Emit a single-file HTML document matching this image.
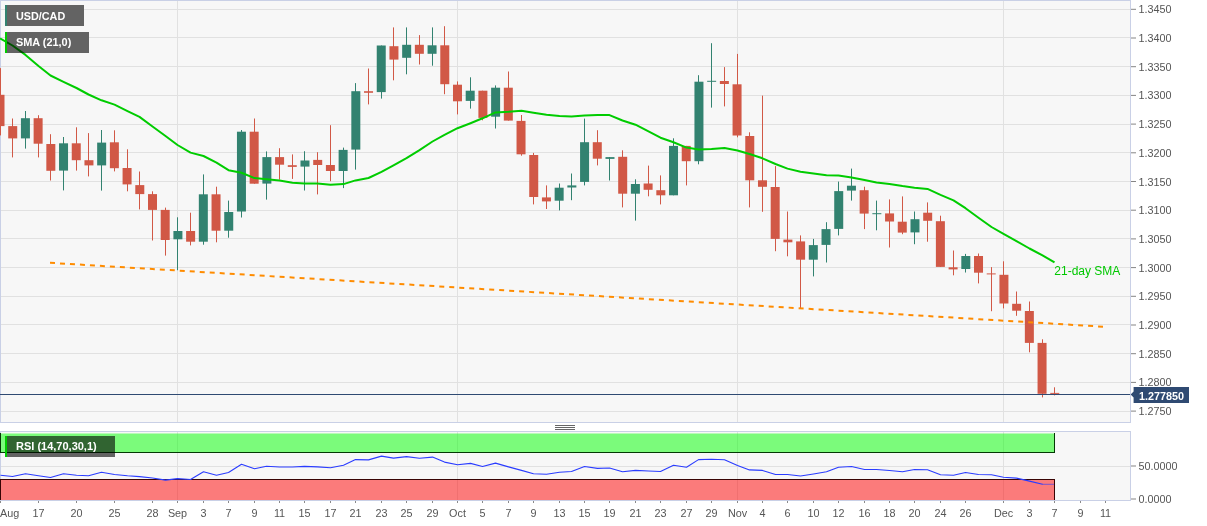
<!DOCTYPE html>
<html><head><meta charset="utf-8"><title>USD/CAD</title>
<style>
html,body{margin:0;padding:0;background:#fff;}
body{width:1207px;height:526px;overflow:hidden;}
svg{display:block;}
svg text{font-family:"Liberation Sans",Arial,sans-serif;}
.ax{font-size:10.8px;fill:#555;}
.lb{font-size:10.8px;font-weight:bold;fill:#fff;}
</style></head><body>
<svg width="1207" height="526" viewBox="0 0 1207 526">
<rect x="0" y="0" width="1131" height="423" fill="#f7f7f7"/>
<rect x="0" y="431" width="1131" height="70" fill="#f7f7f7"/>
<g shape-rendering="crispEdges" stroke="#e1e1e1" stroke-width="1">
<line x1="1" y1="9.5" x2="1130" y2="9.5"/>
<line x1="1" y1="37.5" x2="1130" y2="37.5"/>
<line x1="1" y1="66.5" x2="1130" y2="66.5"/>
<line x1="1" y1="95.5" x2="1130" y2="95.5"/>
<line x1="1" y1="124.5" x2="1130" y2="124.5"/>
<line x1="1" y1="152.5" x2="1130" y2="152.5"/>
<line x1="1" y1="181.5" x2="1130" y2="181.5"/>
<line x1="1" y1="210.5" x2="1130" y2="210.5"/>
<line x1="1" y1="238.5" x2="1130" y2="238.5"/>
<line x1="1" y1="267.5" x2="1130" y2="267.5"/>
<line x1="1" y1="296.5" x2="1130" y2="296.5"/>
<line x1="1" y1="324.5" x2="1130" y2="324.5"/>
<line x1="1" y1="353.5" x2="1130" y2="353.5"/>
<line x1="1" y1="382.5" x2="1130" y2="382.5"/>
<line x1="1" y1="411.5" x2="1130" y2="411.5"/>
<line x1="177.5" y1="1" x2="177.5" y2="422"/>
<line x1="177.5" y1="432" x2="177.5" y2="500"/>
<line x1="457.5" y1="1" x2="457.5" y2="422"/>
<line x1="457.5" y1="432" x2="457.5" y2="500"/>
<line x1="737.5" y1="1" x2="737.5" y2="422"/>
<line x1="737.5" y1="432" x2="737.5" y2="500"/>
<line x1="1003.5" y1="1" x2="1003.5" y2="422"/>
<line x1="1003.5" y1="432" x2="1003.5" y2="500"/>
<line x1="1" y1="466.5" x2="1130" y2="466.5"/>
</g>
<rect x="5" y="5" width="79" height="21" fill="#f7f7f7"/><rect x="5" y="32" width="84" height="21" fill="#f7f7f7"/>
<g shape-rendering="crispEdges" fill="none" stroke="#c9d0e6" stroke-width="1">
<rect x="0.5" y="0.5" width="1130" height="422"/>
<rect x="0.5" y="431.5" width="1130" height="69"/>
</g>
<g stroke="#858585" stroke-width="1">
<line x1="1131" y1="9.30" x2="1136" y2="9.30"/>
<line x1="1131" y1="38.00" x2="1136" y2="38.00"/>
<line x1="1131" y1="66.70" x2="1136" y2="66.70"/>
<line x1="1131" y1="95.40" x2="1136" y2="95.40"/>
<line x1="1131" y1="124.10" x2="1136" y2="124.10"/>
<line x1="1131" y1="152.80" x2="1136" y2="152.80"/>
<line x1="1131" y1="181.50" x2="1136" y2="181.50"/>
<line x1="1131" y1="210.20" x2="1136" y2="210.20"/>
<line x1="1131" y1="238.90" x2="1136" y2="238.90"/>
<line x1="1131" y1="267.60" x2="1136" y2="267.60"/>
<line x1="1131" y1="296.30" x2="1136" y2="296.30"/>
<line x1="1131" y1="325.00" x2="1136" y2="325.00"/>
<line x1="1131" y1="353.70" x2="1136" y2="353.70"/>
<line x1="1131" y1="382.40" x2="1136" y2="382.40"/>
<line x1="1131" y1="411.10" x2="1136" y2="411.10"/>
<line x1="1131" y1="466" x2="1136" y2="466"/>
<line x1="1131" y1="499" x2="1136" y2="499"/>
</g>
<g>
<g fill="#d15846"><rect x="0.00" y="68.1" width="1" height="67.3"/><rect x="-4.50" y="94.8" width="9" height="31.3"/></g>
<g fill="#d15846"><rect x="12.00" y="118.5" width="1" height="38.9"/><rect x="8.21" y="126.1" width="9" height="12.3"/></g>
<g fill="#328270"><rect x="25.00" y="111.0" width="1" height="37.6"/><rect x="20.92" y="118.2" width="9" height="20.2"/></g>
<g fill="#d15846"><rect x="38.00" y="115.2" width="1" height="42.2"/><rect x="33.62" y="118.2" width="9" height="25.5"/></g>
<g fill="#d15846"><rect x="50.00" y="134.2" width="1" height="46.3"/><rect x="46.33" y="144" width="9" height="26.8"/></g>
<g fill="#328270"><rect x="63.00" y="137" width="1" height="53.4"/><rect x="59.04" y="143.3" width="9" height="27.3"/></g>
<g fill="#d15846"><rect x="76.00" y="127.3" width="1" height="43.3"/><rect x="71.75" y="143.3" width="9" height="16.9"/></g>
<g fill="#d15846"><rect x="88.00" y="133.1" width="1" height="43.3"/><rect x="84.46" y="160.2" width="9" height="5.2"/></g>
<g fill="#328270"><rect x="101.00" y="130" width="1" height="60.6"/><rect x="97.16" y="142.6" width="9" height="22.8"/></g>
<g fill="#d15846"><rect x="114.00" y="130.3" width="1" height="41.1"/><rect x="109.87" y="142.3" width="9" height="25.9"/></g>
<g fill="#d15846"><rect x="127.00" y="149.3" width="1" height="42.0"/><rect x="122.58" y="168" width="9" height="16.4"/></g>
<g fill="#d15846"><rect x="139.00" y="171.5" width="1" height="37.9"/><rect x="135.29" y="185.1" width="9" height="9.0"/></g>
<g fill="#d15846"><rect x="152.00" y="191.3" width="1" height="49.2"/><rect x="148.00" y="194.1" width="9" height="15.8"/></g>
<g fill="#d15846"><rect x="165.00" y="207.6" width="1" height="48.0"/><rect x="160.70" y="209.9" width="9" height="30.1"/></g>
<g fill="#328270"><rect x="177.00" y="217.3" width="1" height="52.9"/><rect x="173.41" y="231" width="9" height="8.3"/></g>
<g fill="#d15846"><rect x="190.00" y="212.7" width="1" height="32.7"/><rect x="186.12" y="231" width="9" height="10.7"/></g>
<g fill="#328270"><rect x="203.00" y="174.4" width="1" height="70.3"/><rect x="198.83" y="194.3" width="9" height="47.4"/></g>
<g fill="#d15846"><rect x="216.00" y="186.7" width="1" height="55.6"/><rect x="211.54" y="194.3" width="9" height="36.4"/></g>
<g fill="#328270"><rect x="228.00" y="200.6" width="1" height="37.1"/><rect x="224.24" y="212" width="9" height="18.7"/></g>
<g fill="#328270"><rect x="241.00" y="130" width="1" height="87.5"/><rect x="236.95" y="131.7" width="9" height="79.8"/></g>
<g fill="#d15846"><rect x="254.00" y="118.5" width="1" height="65.2"/><rect x="249.66" y="131.7" width="9" height="52.0"/></g>
<g fill="#328270"><rect x="266.00" y="151.4" width="1" height="48.2"/><rect x="262.37" y="157.1" width="9" height="26.5"/></g>
<g fill="#d15846"><rect x="279.00" y="148.2" width="1" height="31.4"/><rect x="275.08" y="157.1" width="9" height="7.6"/></g>
<g fill="#d15846"><rect x="292.00" y="154.4" width="1" height="24.5"/><rect x="287.78" y="165.2" width="9" height="1.7"/></g>
<g fill="#328270"><rect x="304.00" y="151.2" width="1" height="39.3"/><rect x="300.49" y="160.5" width="9" height="6.1"/></g>
<g fill="#d15846"><rect x="317.00" y="152.2" width="1" height="42.2"/><rect x="313.20" y="159.9" width="9" height="5.1"/></g>
<g fill="#d15846"><rect x="330.00" y="125.2" width="1" height="56.0"/><rect x="325.91" y="165" width="9" height="6.0"/></g>
<g fill="#328270"><rect x="343.00" y="147.6" width="1" height="40.5"/><rect x="338.62" y="149.9" width="9" height="21.1"/></g>
<g fill="#328270"><rect x="355.00" y="83.1" width="1" height="86.5"/><rect x="351.32" y="91.2" width="9" height="58.4"/></g>
<g fill="#d15846"><rect x="368.00" y="68.5" width="1" height="35.9"/><rect x="364.03" y="91.2" width="9" height="1.6"/></g>
<g fill="#328270"><rect x="381.00" y="45.5" width="1" height="53.1"/><rect x="376.74" y="45.5" width="9" height="46.6"/></g>
<g fill="#d15846"><rect x="393.00" y="27.4" width="1" height="52.9"/><rect x="389.45" y="46.2" width="9" height="13.4"/></g>
<g fill="#328270"><rect x="406.00" y="27.4" width="1" height="46.9"/><rect x="402.16" y="44.8" width="9" height="13.0"/></g>
<g fill="#d15846"><rect x="419.00" y="35.1" width="1" height="29.4"/><rect x="414.86" y="44.8" width="9" height="9.0"/></g>
<g fill="#328270"><rect x="432.00" y="27.4" width="1" height="38.3"/><rect x="427.57" y="45.3" width="9" height="8.5"/></g>
<g fill="#d15846"><rect x="444.00" y="26.2" width="1" height="68.0"/><rect x="440.28" y="45.3" width="9" height="38.9"/></g>
<g fill="#d15846"><rect x="457.00" y="81.4" width="1" height="33.0"/><rect x="452.99" y="84.7" width="9" height="16.6"/></g>
<g fill="#328270"><rect x="470.00" y="77.3" width="1" height="31.3"/><rect x="465.70" y="90.7" width="9" height="10.2"/></g>
<g fill="#d15846"><rect x="482.00" y="90.7" width="1" height="29.6"/><rect x="478.40" y="90.7" width="9" height="27.2"/></g>
<g fill="#328270"><rect x="495.00" y="85.4" width="1" height="43.1"/><rect x="491.11" y="87.7" width="9" height="29.0"/></g>
<g fill="#d15846"><rect x="508.00" y="71.5" width="1" height="49.1"/><rect x="503.82" y="87.7" width="9" height="32.9"/></g>
<g fill="#d15846"><rect x="521.00" y="115" width="1" height="40.7"/><rect x="516.53" y="120.9" width="9" height="33.4"/></g>
<g fill="#d15846"><rect x="533.00" y="152.9" width="1" height="51.5"/><rect x="529.24" y="155" width="9" height="42.0"/></g>
<g fill="#d15846"><rect x="546.00" y="185.4" width="1" height="23.6"/><rect x="541.94" y="197.4" width="9" height="4.0"/></g>
<g fill="#328270"><rect x="559.00" y="183.5" width="1" height="26.9"/><rect x="554.65" y="187.7" width="9" height="13.0"/></g>
<g fill="#328270"><rect x="571.00" y="173.5" width="1" height="26.7"/><rect x="567.36" y="185.4" width="9" height="2.1"/></g>
<g fill="#328270"><rect x="584.00" y="118.6" width="1" height="66.8"/><rect x="580.07" y="142.2" width="9" height="39.7"/></g>
<g fill="#d15846"><rect x="597.00" y="130.2" width="1" height="35.2"/><rect x="592.78" y="142.2" width="9" height="16.5"/></g>
<g fill="#328270"><rect x="609.00" y="157.1" width="1" height="23.4"/><rect x="605.48" y="157.1" width="9" height="1.8"/></g>
<g fill="#d15846"><rect x="622.00" y="150.3" width="1" height="57.1"/><rect x="618.19" y="156.8" width="9" height="36.9"/></g>
<g fill="#328270"><rect x="635.00" y="179.3" width="1" height="41.3"/><rect x="630.90" y="184" width="9" height="9.7"/></g>
<g fill="#d15846"><rect x="648.00" y="165.6" width="1" height="30.7"/><rect x="643.61" y="183.5" width="9" height="6.3"/></g>
<g fill="#d15846"><rect x="660.00" y="175.4" width="1" height="29.0"/><rect x="656.32" y="190.2" width="9" height="5.1"/></g>
<g fill="#328270"><rect x="673.00" y="138.3" width="1" height="57.0"/><rect x="669.02" y="145.9" width="9" height="49.4"/></g>
<g fill="#d15846"><rect x="686.00" y="145.9" width="1" height="39.5"/><rect x="681.73" y="145.9" width="9" height="15.3"/></g>
<g fill="#328270"><rect x="698.00" y="75.2" width="1" height="89.1"/><rect x="694.44" y="81.7" width="9" height="79.5"/></g>
<g fill="#328270"><rect x="711.00" y="43.2" width="1" height="64.4"/><rect x="707.15" y="80.8" width="9" height="1.0"/></g>
<g fill="#d15846"><rect x="724.00" y="67.1" width="1" height="39.3"/><rect x="719.86" y="81" width="9" height="3.0"/></g>
<g fill="#d15846"><rect x="737.00" y="53.9" width="1" height="83.4"/><rect x="732.56" y="84.3" width="9" height="51.2"/></g>
<g fill="#d15846"><rect x="749.00" y="132.3" width="1" height="75.1"/><rect x="745.27" y="136" width="9" height="44.3"/></g>
<g fill="#d15846"><rect x="762.00" y="95.6" width="1" height="116.2"/><rect x="757.98" y="180.3" width="9" height="6.5"/></g>
<g fill="#d15846"><rect x="775.00" y="166.1" width="1" height="85.1"/><rect x="770.69" y="187" width="9" height="51.9"/></g>
<g fill="#d15846"><rect x="787.00" y="211.5" width="1" height="44.8"/><rect x="783.40" y="239.6" width="9" height="2.7"/></g>
<g fill="#d15846"><rect x="800.00" y="235.4" width="1" height="72.8"/><rect x="796.10" y="241.4" width="9" height="18.3"/></g>
<g fill="#328270"><rect x="813.00" y="238.9" width="1" height="37.5"/><rect x="808.81" y="245.1" width="9" height="14.6"/></g>
<g fill="#328270"><rect x="826.00" y="222.2" width="1" height="40.3"/><rect x="821.52" y="229.1" width="9" height="15.8"/></g>
<g fill="#328270"><rect x="838.00" y="181.6" width="1" height="53.8"/><rect x="834.23" y="191.1" width="9" height="37.8"/></g>
<g fill="#328270"><rect x="851.00" y="168.6" width="1" height="32.0"/><rect x="846.94" y="185.7" width="9" height="4.9"/></g>
<g fill="#d15846"><rect x="864.00" y="186.7" width="1" height="42.4"/><rect x="859.64" y="190.2" width="9" height="23.4"/></g>
<g fill="#328270"><rect x="876.00" y="200.6" width="1" height="29.7"/><rect x="872.35" y="213.2" width="9" height="1.0"/></g>
<g fill="#d15846"><rect x="889.00" y="199.4" width="1" height="48.1"/><rect x="885.06" y="213.4" width="9" height="8.1"/></g>
<g fill="#d15846"><rect x="902.00" y="196.4" width="1" height="37.8"/><rect x="897.77" y="221.7" width="9" height="10.9"/></g>
<g fill="#328270"><rect x="914.00" y="211.5" width="1" height="32.7"/><rect x="910.48" y="219.2" width="9" height="13.2"/></g>
<g fill="#d15846"><rect x="927.00" y="202.4" width="1" height="39.3"/><rect x="923.18" y="212.7" width="9" height="8.1"/></g>
<g fill="#d15846"><rect x="940.00" y="215.7" width="1" height="51.2"/><rect x="935.89" y="221.2" width="9" height="45.7"/></g>
<g fill="#d15846"><rect x="953.00" y="250.5" width="1" height="24.8"/><rect x="948.60" y="267.3" width="9" height="2.1"/></g>
<g fill="#328270"><rect x="965.00" y="253.9" width="1" height="18.6"/><rect x="961.31" y="256" width="9" height="13.0"/></g>
<g fill="#d15846"><rect x="978.00" y="253.5" width="1" height="29.9"/><rect x="974.02" y="256" width="9" height="16.7"/></g>
<g fill="#d15846"><rect x="991.00" y="267.1" width="1" height="44.1"/><rect x="986.72" y="273.4" width="9" height="1.0"/></g>
<g fill="#d15846"><rect x="1003.00" y="261.3" width="1" height="47.1"/><rect x="999.43" y="274.8" width="9" height="28.7"/></g>
<g fill="#d15846"><rect x="1016.00" y="291.5" width="1" height="24.3"/><rect x="1012.14" y="303.8" width="9" height="6.9"/></g>
<g fill="#d15846"><rect x="1029.00" y="301.5" width="1" height="50.8"/><rect x="1024.85" y="311" width="9" height="31.9"/></g>
<g fill="#d15846"><rect x="1042.00" y="339.3" width="1" height="58.1"/><rect x="1037.56" y="342.9" width="9" height="50.9"/></g>
<g fill="#d15846"><rect x="1054.00" y="387.3" width="1" height="8.1"/><rect x="1050.26" y="392.9" width="9" height="1.0"/></g>
</g>
<line x1="50" y1="262.8" x2="1103" y2="326.7" stroke="#ff8c00" stroke-width="2" stroke-dasharray="5 5"/>
<polyline points="0,38.4 12.5,45.5 25.5,54.9 38.5,66 50.5,75.5 63.5,81.9 76.5,88 88.5,94.5 101.5,100.3 114.5,104.6 127.5,111.1 139.5,116.9 152.5,126.5 165.5,136 177.5,145 190.5,152.6 203.5,156 216.5,162.7 228.5,170.2 241.5,172.8 254.5,178.1 266.5,179.3 279.5,180.6 292.5,182.7 304.5,183.5 317.5,183.4 330.5,184.7 343.5,184.1 355.5,180.4 368.5,178 381.5,171.9 393.5,165.3 406.5,158.2 419.5,150.1 432.5,141.5 444.5,134.8 457.5,128.2 470.5,123.2 482.5,118.3 495.5,112.4 508.5,111.8 521.5,110.8 533.5,112.8 546.5,114.7 559.5,115.9 571.5,116.5 584.5,115.5 597.5,115.1 609.5,115.1 622.5,120.5 635.5,124.7 648.5,131.3 660.5,137.7 673.5,142.3 686.5,147.6 698.5,149.5 711.5,149.1 724.5,147.9 737.5,150.5 749.5,154 762.5,158.3 775.5,164 787.5,168.6 800.5,171.7 813.5,173.6 826.5,175.3 838.5,175.6 851.5,177.5 864.5,180.1 876.5,182.6 889.5,184 902.5,186.1 914.5,187.7 927.5,188.9 940.5,194.8 953.5,200.3 965.5,208.2 978.5,217.7 991.5,227 1003.5,233.9 1016.5,241.2 1029.5,248.5 1042.5,255.4 1054.5,262.4" fill="none" stroke="#00cc00" stroke-width="2" stroke-linejoin="round"/>
<text x="1054.3" y="275" font-size="12" fill="#00c800">21-day SMA</text>
<line x1="0" y1="394.5" x2="1130" y2="394.5" stroke="#2f4a72" stroke-width="1" shape-rendering="crispEdges"/>
<rect x="0" y="433.5" width="1054.5" height="19" fill="rgba(0,255,0,0.5)"/>
<rect x="0" y="479.5" width="1054.5" height="20.5" fill="rgba(255,0,0,0.5)"/>
<g shape-rendering="crispEdges" stroke="#043804" stroke-width="1">
<line x1="0" y1="452.5" x2="1055" y2="452.5"/><line x1="1054.5" y1="433" x2="1054.5" y2="453"/><line x1="0.5" y1="433" x2="0.5" y2="453"/>
</g>
<g shape-rendering="crispEdges" stroke="#380404" stroke-width="1">
<line x1="0" y1="479.5" x2="1055" y2="479.5"/><line x1="1054.5" y1="479" x2="1054.5" y2="500"/><line x1="0.5" y1="479" x2="0.5" y2="500"/>
</g>
<polyline points="0.5,475.3 12.5,476.5 25.5,473.7 38.5,475.7 50.5,477.5 63.5,473.8 76.5,475.2 88.5,475.7 101.5,472.3 114.5,474.5 127.5,475.8 139.5,476.6 152.5,478 165.5,480.1 177.5,478.6 190.5,479.5 203.5,471.8 216.5,475.2 228.5,472.5 241.5,464.2 254.5,468.7 266.5,466.2 279.5,467.0 292.5,467.0 304.5,466.4 317.5,466.9 330.5,467.7 343.5,465.2 355.5,459.6 368.5,459.9 381.5,456.1 393.5,458.1 406.5,456.6 419.5,458.3 432.5,457.1 444.5,462.1 457.5,464.7 470.5,463.4 482.5,466.5 495.5,463.1 508.5,466.9 521.5,470.4 533.5,473.7 546.5,474.2 559.5,472.3 571.5,471.5 584.5,466.5 597.5,468.4 609.5,468.0 622.5,471.8 635.5,470.4 648.5,471.0 660.5,471.5 673.5,465.2 686.5,467.2 698.5,459.6 711.5,459.3 724.5,459.7 737.5,465.5 749.5,469.9 762.5,470.4 775.5,474.5 787.5,474.5 800.5,476.0 813.5,474.0 826.5,471.8 838.5,467.2 851.5,466.5 864.5,469.5 876.5,469.5 889.5,470.5 902.5,471.7 914.5,469.5 927.5,469.7 940.5,474.7 953.5,475.2 965.5,472.5 978.5,474.5 991.5,474.7 1003.5,477.3 1016.5,478.1 1029.5,481.1 1042.5,484.3" fill="none" stroke="#2a3cff" stroke-width="1.1" stroke-linejoin="round"/>
<line x1="1042.5" y1="484.3" x2="1054.5" y2="484.3" stroke="#2a3cff" stroke-width="1.2" stroke-dasharray="1 1"/>
<rect x="5" y="5" width="79" height="21" fill="rgba(0,0,0,0.6)"/><rect x="5" y="5" width="2" height="21" fill="#328270"/>
<text class="lb" style="font-size:10.8px" x="16" y="20">USD/CAD</text>
<rect x="5" y="32" width="84" height="21" fill="rgba(0,0,0,0.6)"/><rect x="5" y="32" width="2" height="21" fill="#00cc00"/>
<text class="lb" style="font-size:10.9px" x="16" y="46">SMA (21,0)</text>
<rect x="5" y="436" width="110" height="21" fill="rgba(0,0,0,0.6)"/><rect x="5" y="436" width="2" height="21" fill="#00cc00"/>
<text class="lb" style="font-size:11px" x="16" y="450">RSI (14,70,30,1)</text>
<g shape-rendering="crispEdges" stroke="#666" stroke-width="1"><line x1="555" y1="425.5" x2="575" y2="425.5"/><line x1="555" y1="427.5" x2="575" y2="427.5"/><line x1="555" y1="429.5" x2="575" y2="429.5"/></g>
<g class="ax">
<text x="1138.5" y="13">1.3450</text>
<text x="1138.5" y="42">1.3400</text>
<text x="1138.5" y="71">1.3350</text>
<text x="1138.5" y="99">1.3300</text>
<text x="1138.5" y="128">1.3250</text>
<text x="1138.5" y="157">1.3200</text>
<text x="1138.5" y="186">1.3150</text>
<text x="1138.5" y="214">1.3100</text>
<text x="1138.5" y="243">1.3050</text>
<text x="1138.5" y="272">1.3000</text>
<text x="1138.5" y="300">1.2950</text>
<text x="1138.5" y="329">1.2900</text>
<text x="1138.5" y="358">1.2850</text>
<text x="1138.5" y="386">1.2800</text>
<text x="1138.5" y="415">1.2750</text>
<text x="1138.5" y="470">50.0000</text>
<text x="1138.5" y="503">0.0000</text>
</g>
<path d="M1130.6 394.5 L1133.6 391.6 L1133.6 387 L1189 387 L1189 403 L1133.6 403 L1133.6 397.4 Z" fill="#2f4a72"/>
<text class="lb" x="1139" y="400">1.277850</text>
<g shape-rendering="crispEdges" stroke="#8a8a8a" stroke-width="1">
<line x1="0.5" y1="501" x2="0.5" y2="503"/>
<line x1="38.5" y1="501" x2="38.5" y2="503"/>
<line x1="76.5" y1="501" x2="76.5" y2="503"/>
<line x1="114.5" y1="501" x2="114.5" y2="503"/>
<line x1="152.5" y1="501" x2="152.5" y2="503"/>
<line x1="177.5" y1="501" x2="177.5" y2="503"/>
<line x1="203.5" y1="501" x2="203.5" y2="503"/>
<line x1="228.5" y1="501" x2="228.5" y2="503"/>
<line x1="254.5" y1="501" x2="254.5" y2="503"/>
<line x1="279.5" y1="501" x2="279.5" y2="503"/>
<line x1="304.5" y1="501" x2="304.5" y2="503"/>
<line x1="330.5" y1="501" x2="330.5" y2="503"/>
<line x1="355.5" y1="501" x2="355.5" y2="503"/>
<line x1="381.5" y1="501" x2="381.5" y2="503"/>
<line x1="406.5" y1="501" x2="406.5" y2="503"/>
<line x1="432.5" y1="501" x2="432.5" y2="503"/>
<line x1="457.5" y1="501" x2="457.5" y2="503"/>
<line x1="482.5" y1="501" x2="482.5" y2="503"/>
<line x1="508.5" y1="501" x2="508.5" y2="503"/>
<line x1="533.5" y1="501" x2="533.5" y2="503"/>
<line x1="559.5" y1="501" x2="559.5" y2="503"/>
<line x1="584.5" y1="501" x2="584.5" y2="503"/>
<line x1="609.5" y1="501" x2="609.5" y2="503"/>
<line x1="635.5" y1="501" x2="635.5" y2="503"/>
<line x1="660.5" y1="501" x2="660.5" y2="503"/>
<line x1="686.5" y1="501" x2="686.5" y2="503"/>
<line x1="711.5" y1="501" x2="711.5" y2="503"/>
<line x1="737.5" y1="501" x2="737.5" y2="503"/>
<line x1="762.5" y1="501" x2="762.5" y2="503"/>
<line x1="787.5" y1="501" x2="787.5" y2="503"/>
<line x1="813.5" y1="501" x2="813.5" y2="503"/>
<line x1="838.5" y1="501" x2="838.5" y2="503"/>
<line x1="864.5" y1="501" x2="864.5" y2="503"/>
<line x1="889.5" y1="501" x2="889.5" y2="503"/>
<line x1="914.5" y1="501" x2="914.5" y2="503"/>
<line x1="940.5" y1="501" x2="940.5" y2="503"/>
<line x1="965.5" y1="501" x2="965.5" y2="503"/>
<line x1="1003.5" y1="501" x2="1003.5" y2="503"/>
<line x1="1029.5" y1="501" x2="1029.5" y2="503"/>
<line x1="1054.5" y1="501" x2="1054.5" y2="503"/>
<line x1="1080.5" y1="501" x2="1080.5" y2="503"/>
<line x1="1105.5" y1="501" x2="1105.5" y2="503"/>
</g>
<g class="ax" text-anchor="middle">
<text x="0" y="517" text-anchor="start">Aug</text>
<text x="38.5" y="517">17</text>
<text x="76.5" y="517">20</text>
<text x="114.5" y="517">25</text>
<text x="152.5" y="517">28</text>
<text x="177.5" y="517">Sep</text>
<text x="203.5" y="517">3</text>
<text x="228.5" y="517">7</text>
<text x="254.5" y="517">9</text>
<text x="279.5" y="517">11</text>
<text x="304.5" y="517">15</text>
<text x="330.5" y="517">17</text>
<text x="355.5" y="517">21</text>
<text x="381.5" y="517">23</text>
<text x="406.5" y="517">25</text>
<text x="432.5" y="517">29</text>
<text x="457.5" y="517">Oct</text>
<text x="482.5" y="517">5</text>
<text x="508.5" y="517">7</text>
<text x="533.5" y="517">9</text>
<text x="559.5" y="517">13</text>
<text x="584.5" y="517">15</text>
<text x="609.5" y="517">19</text>
<text x="635.5" y="517">21</text>
<text x="660.5" y="517">23</text>
<text x="686.5" y="517">27</text>
<text x="711.5" y="517">29</text>
<text x="737.5" y="517">Nov</text>
<text x="762.5" y="517">4</text>
<text x="787.5" y="517">6</text>
<text x="813.5" y="517">10</text>
<text x="838.5" y="517">12</text>
<text x="864.5" y="517">16</text>
<text x="889.5" y="517">18</text>
<text x="914.5" y="517">20</text>
<text x="940.5" y="517">24</text>
<text x="965.5" y="517">26</text>
<text x="1003.5" y="517">Dec</text>
<text x="1029.5" y="517">3</text>
<text x="1054.5" y="517">7</text>
<text x="1080.5" y="517">9</text>
<text x="1105.5" y="517">11</text>
</g>
</svg>
</body></html>
